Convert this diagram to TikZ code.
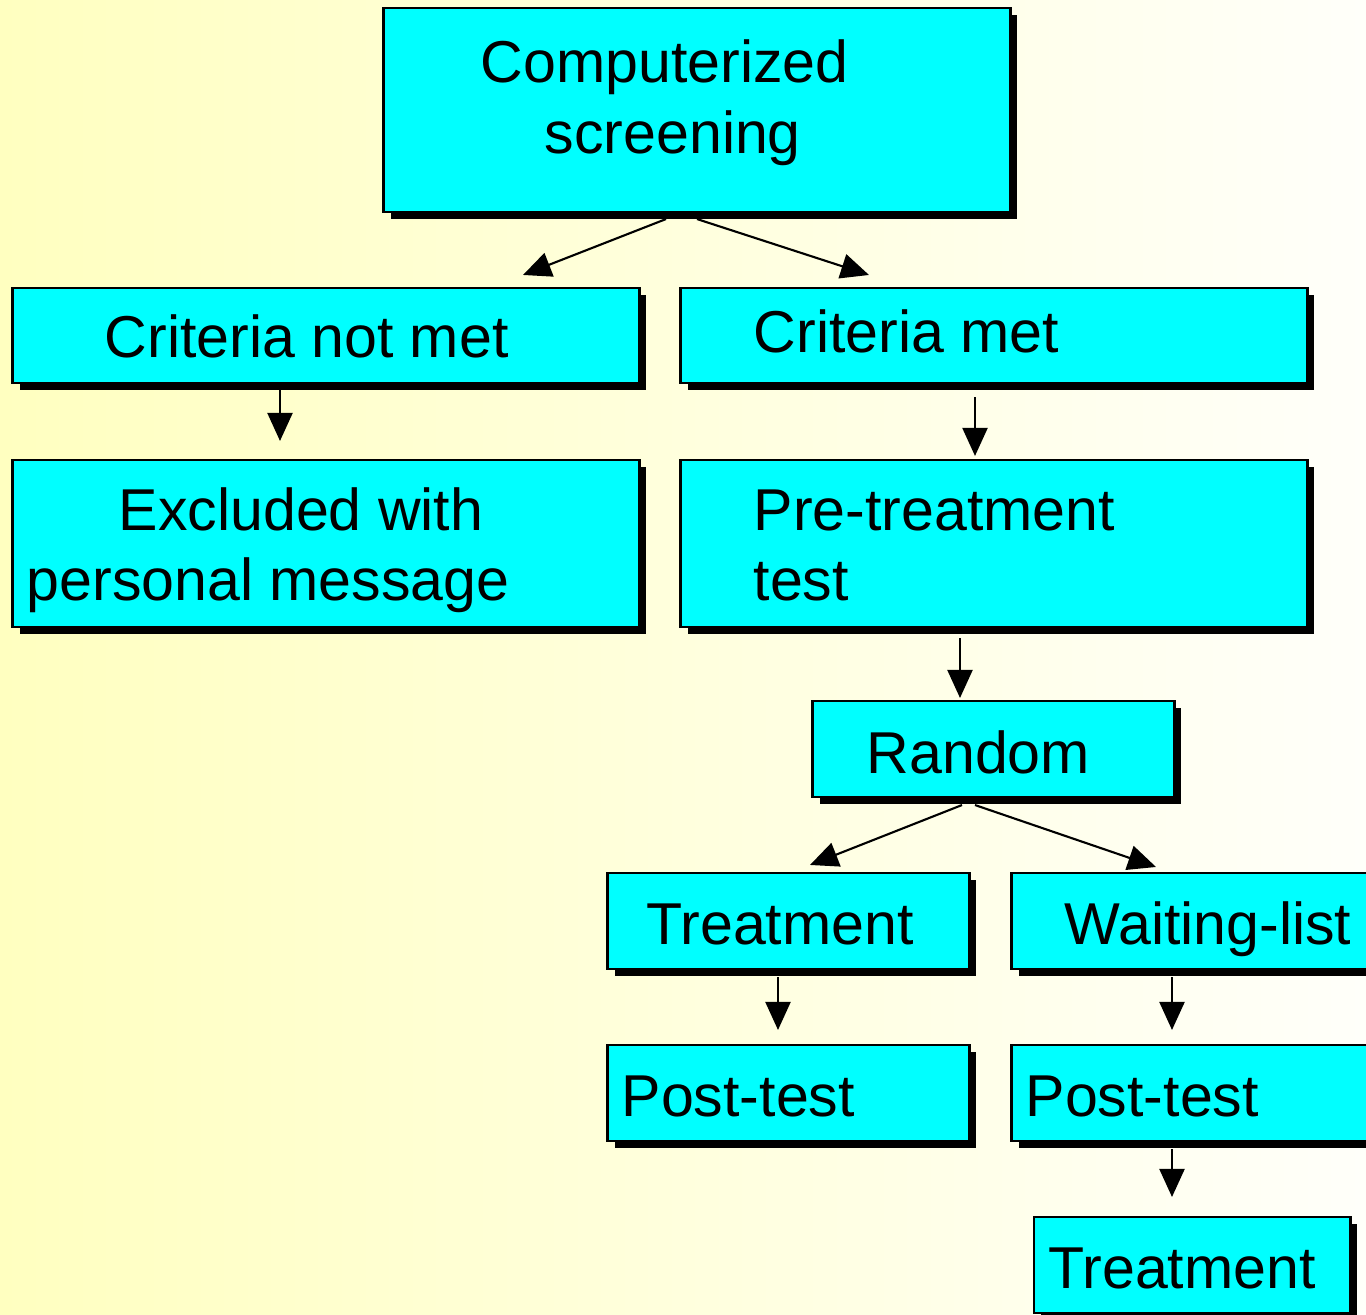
\documentclass[tikz,border=0pt]{standalone}
\usepackage{fontspec}
\setmainfont{Liberation Sans}
\usetikzlibrary{calc,shadows,arrows.meta}
\definecolor{bgleft}{RGB}{255,255,192}
\definecolor{bgright}{RGB}{255,255,250}
\definecolor{boxfill}{RGB}{0,255,255}
\tikzset{
    box/.style={draw=black,line width=0.8pt,fill=boxfill,outer sep=0pt,inner sep=0pt,
        drop shadow={opacity=1,fill=black,shadow xshift=0.07cm,shadow yshift=-0.07cm}},
    lbl/.style={anchor=base west,inner sep=0pt,font=\fontsize{16.8}{20}\selectfont},
    arr/.style={line width=0.6pt,-{Triangle[length=0.28cm,width=0.25cm]}}
}

\begin{document}
\begin{tikzpicture}[x=0.01cm,y=-0.01cm]
    \useasboundingbox (0,0) rectangle (1366,1315);
    \clip (0,0) rectangle (1366,1315);
    \fill[left color=bgleft,right color=bgright] (0,0) rectangle (1366,1315);
    % boxes
    \node[box,minimum width=6.26cm,minimum height=2.04cm] (cs) at (697,110) {};
    \node[box,minimum width=6.26cm,minimum height=0.95cm] (cnm) at (326,335.5) {};
    \node[box,minimum width=6.26cm,minimum height=0.95cm] (cm) at (994,335.5) {};
    \node[box,minimum width=6.26cm,minimum height=1.67cm] (exc) at (326,543.5) {};
    \node[box,minimum width=6.26cm,minimum height=1.67cm] (pre) at (994,543.5) {};
    \node[box,minimum width=3.61cm,minimum height=0.96cm] (rnd) at (993.5,749) {};
    \node[box,minimum width=3.61cm,minimum height=0.96cm] (trt) at (788.5,921) {};
    \node[box,minimum width=3.61cm,minimum height=0.96cm] (wl) at (1192.5,921) {};
    \node[box,minimum width=3.61cm,minimum height=0.96cm] (pta) at (788.5,1093) {};
    \node[box,minimum width=3.61cm,minimum height=0.96cm] (ptb) at (1192.5,1093) {};
    \node[box,minimum width=3.16cm,minimum height=0.96cm] (trtb) at (1192,1265) {};
    % texts
    \node[lbl] (cs-a) at (480,83) {Computerized};
    \node[lbl] (cs-b) at (544,153) {screening};
    \node[lbl] (cnm-a) at (104,357) {Criteria not met};
    \node[lbl] (cm-a) at (753,352) {Criteria met};
    \node[lbl] (exc-a) at (118,530) {Excluded with};
    \node[lbl] (exc-b) at (26,600) {personal message};
    \node[lbl] (pre-a) at (753,530) {Pre-treatment};
    \node[lbl] (pre-b) at (753,600) {test};
    \node[lbl] (rnd-a) at (866,773) {Random};
    \node[lbl] (trt-a) at (646,944) {Treatment};
    \node[lbl] (wl-a) at (1064,944) {Waiting-list};
    \node[lbl] (pta-a) at (621,1116) {Post-test};
    \node[lbl] (ptb-a) at (1025,1116) {Post-test};
    \node[lbl] (trtb-a) at (1048,1288) {Treatment};
    % arrows
    \draw[arr] ($(cs.south)+(-31,7)$) -- ($(cnm.north)+(197,-13)$);
    \draw[arr] ($(cs.south)+(0,7)$) -- ($(cm.north)+(-125,-13)$);
    \draw[arr] ($(cnm.south)+(-46,7)$) -- ($(exc.north)+(-46,-19)$);
    \draw[arr] ($(cm.south)+(-19,14)$) -- ($(pre.north)+(-19,-4)$);
    \draw[arr] ($(pre.south)+(-34,11)$) -- ($(rnd.north)+(-33.5,-3)$);
    \draw[arr] ($(rnd.south)+(-31.5,8)$) -- ($(trt.north)+(21.5,-8)$);
    \draw[arr] ($(rnd.south)+(-18.5,8)$) -- ($(wl.north)+(-36.5,-6)$);
    \draw[arr] ($(trt.south)+(-10.5,8)$) -- ($(pta.north)+(-10.5,-15)$);
    \draw[arr] ($(wl.south)+(-20.5,8)$) -- ($(ptb.north)+(-20.5,-15)$);
    \draw[arr] ($(ptb.south)+(-20.5,8)$) -- ($(trtb.north)+(-20,-20)$);
\end{tikzpicture}
\end{document}
